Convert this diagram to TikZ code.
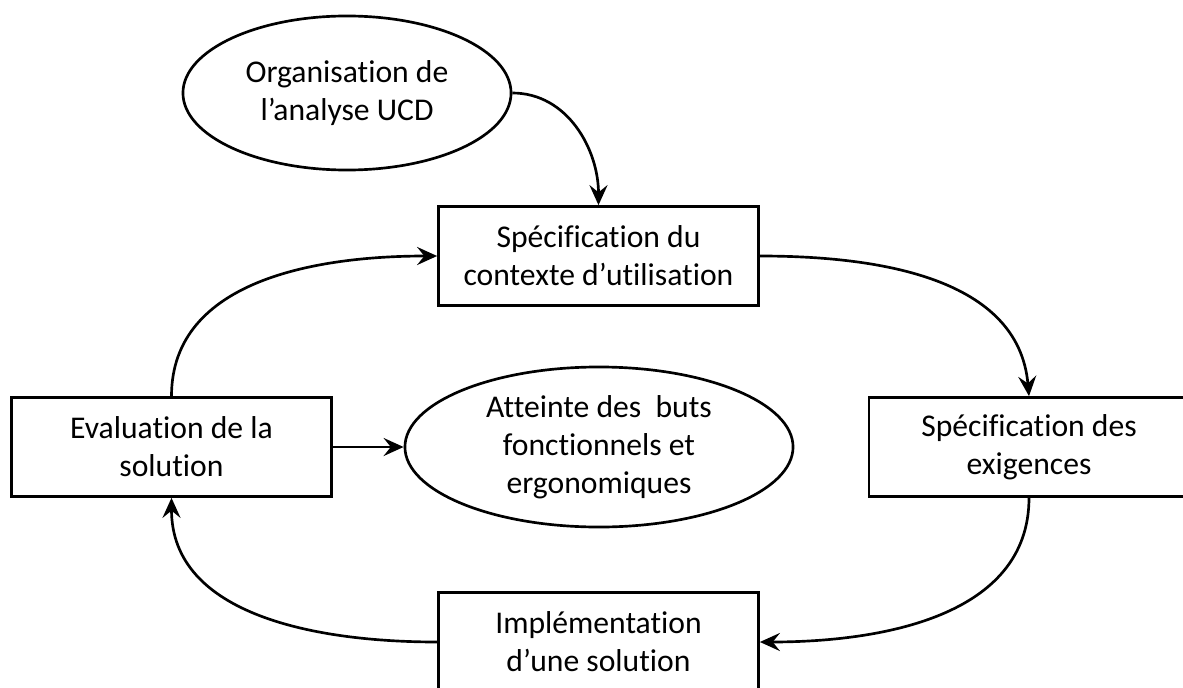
\documentclass[tikz,border=0pt]{standalone}
\usepackage{fontspec}
\setmainfont{Carlito}[Ligatures=NoCommon]
\usetikzlibrary{shapes,arrows.meta}

\begin{document}
\begin{tikzpicture}[x=0.025cm,y=0.025cm,line width=1.9pt,
	>={Stealth[length=0.5cm,width=0.45cm,inset=0.18cm]}]
	\def \toprow{594}
	\def \rowctx{431}
	\def \midrow{240}
	\def \botrow{45}
	\tikzstyle{b-node}=[draw,rectangle,align=center,minimum width=8cm,minimum height=2.475cm,inner sep=0pt,font=\fontsize{22.5}{27}\selectfont]
	\tikzstyle{e-node}=[draw,ellipse,align=center,inner sep=0pt,font=\fontsize{22.5}{27}\selectfont]
	\useasboundingbox (0,0) rectangle (1183,687);

	% ellipses
	\node[e-node,minimum width=8.2cm,minimum height=3.85cm] (orga) at (347,\toprow) {Organisation de\\l’analyse UCD};
	\node[e-node,minimum width=9.7cm,minimum height=4cm] (goal) at (599,\midrow) {Atteinte des\ \ buts\\fonctionnels et\\ergonomiques};

	% cycle
	\node[b-node] (ctx)  at (598.5,\rowctx) {Spécification du\\contexte d’utilisation};
	\node[b-node] (exig) at (1029,\midrow) {Spécification des\\exigences};
	\node[b-node] (impl) at (598.5,\botrow) {Implémentation\\d’une solution};
	\node[b-node] (eval) at (171.5,\midrow) {Evaluation de la\\solution};

	\path[->]
		(orga.east)	edge[out=0,in=90]	(ctx.north)
		(ctx.east)	edge[out=0,in=95]	(exig.north)
		(exig.south)	edge[out=-90,in=0]	(impl.east)
		(impl.west)	edge[out=180,in=-90]	(eval.south)
		(eval.north)	edge[out=90,in=180]	(ctx.west)
		%
		(eval)	edge	(goal);
\end{tikzpicture}
\end{document}
